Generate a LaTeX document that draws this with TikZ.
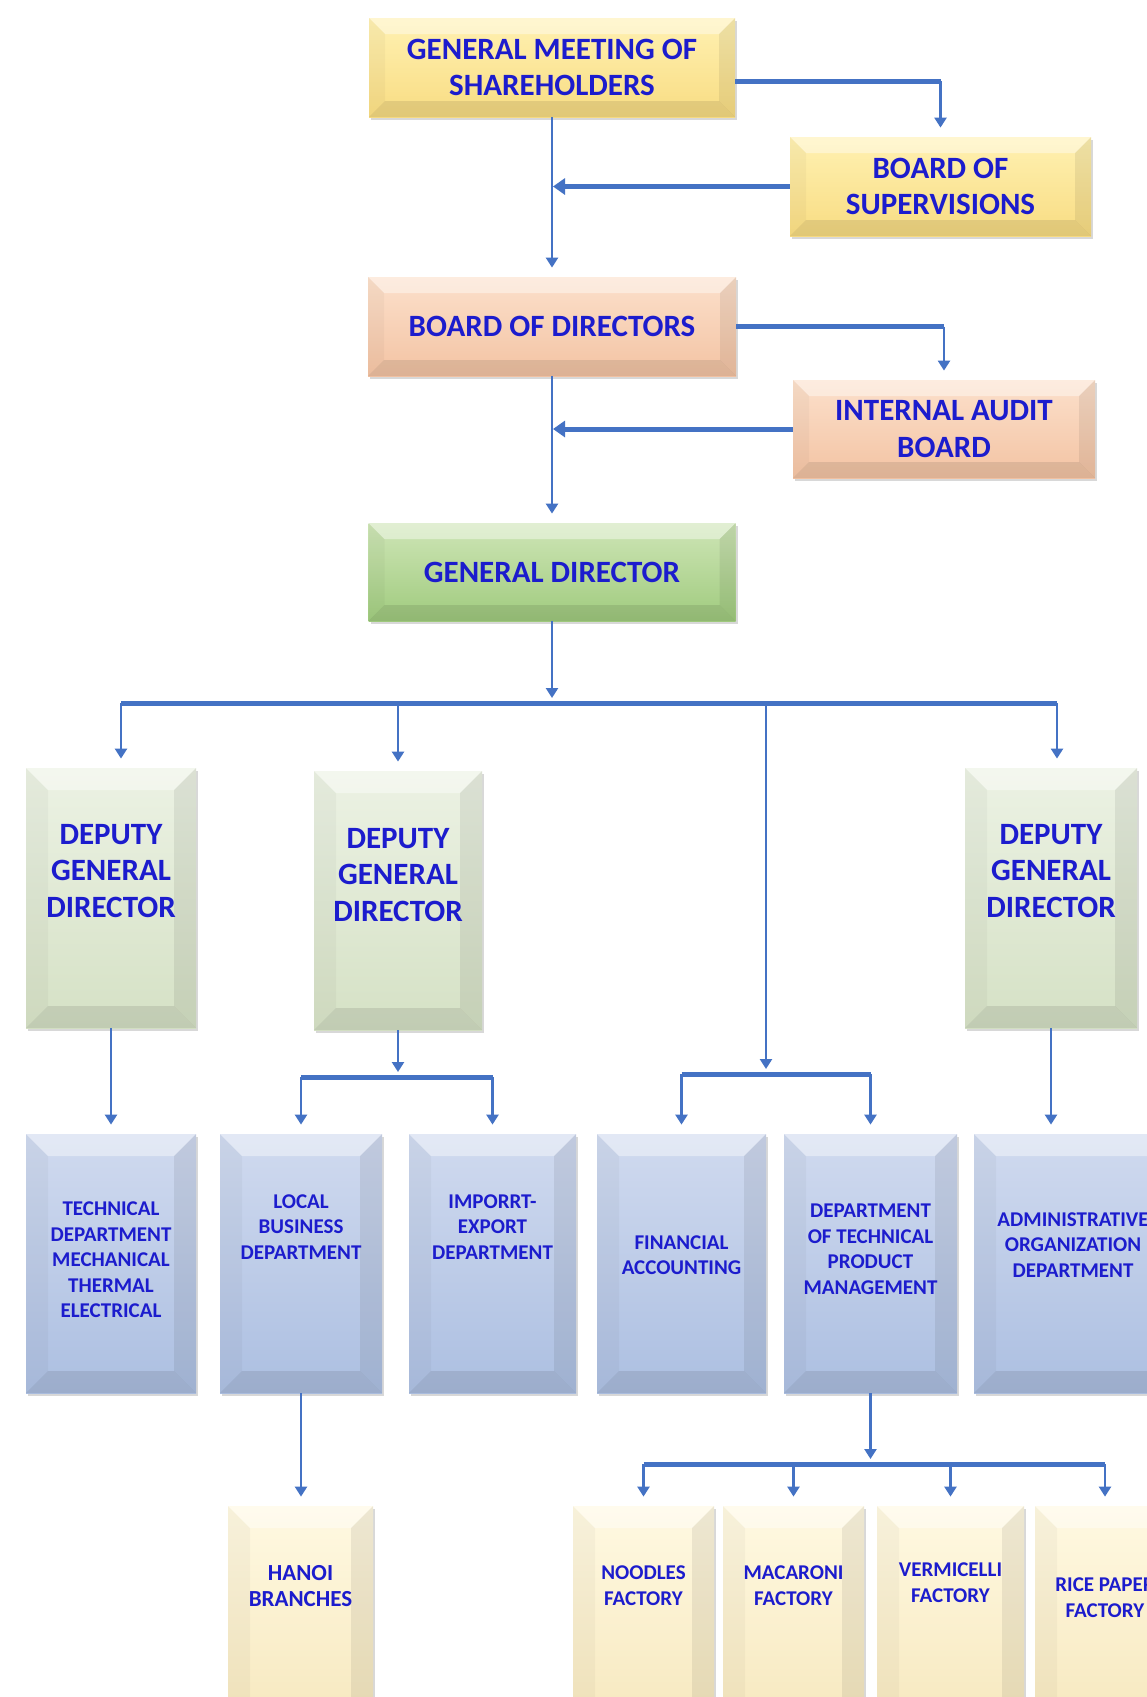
\documentclass[tikz,border=0pt]{standalone}
\usepackage{fontspec}
\setmainfont{Carlito}
\usetikzlibrary{arrows.meta, shadows, calc}

\definecolor{txtblue}{RGB}{28,28,205}
\definecolor{linkblue}{RGB}{68,114,196}
\definecolor{yelTop}{RGB}{255,241,178}
\definecolor{yelBot}{RGB}{248,220,130}
\definecolor{salTop}{RGB}{252,224,203}
\definecolor{salBot}{RGB}{243,195,163}
\definecolor{grnTop}{RGB}{206,229,182}
\definecolor{grnBot}{RGB}{160,203,126}
\definecolor{pgrTop}{RGB}{236,242,228}
\definecolor{pgrBot}{RGB}{213,225,197}
\definecolor{bluTop}{RGB}{208,218,239}
\definecolor{bluBot}{RGB}{172,191,225}
\definecolor{crmTop}{RGB}{255,249,226}
\definecolor{crmBot}{RGB}{246,231,188}

\tikzset{
  box/.style={rectangle, inner sep=0pt, align=center, text=txtblue,
    drop shadow={shadow xshift=1.2pt, shadow yshift=-1.5pt, opacity=0.3}},
  bevel/.style={path picture={
    \coordinate (bNW) at (path picture bounding box.north west);
    \coordinate (bSE) at (path picture bounding box.south east);
    \coordinate (bNE) at (bNW -| bSE);
    \coordinate (bSW) at (bNW |- bSE);
    \fill[white, opacity=.4] (bNW) -- (bNE) -- ([shift={(-#1,-#1)}]bNE) -- ([shift={(#1,-#1)}]bNW) -- cycle;
    \fill[black, opacity=.03] (bNW) -- ([shift={(#1,-#1)}]bNW) -- ([shift={(#1,#1)}]bSW) -- (bSW) -- cycle;
    \fill[black, opacity=.07] (bNE) -- ([shift={(-#1,-#1)}]bNE) -- ([shift={(-#1,#1)}]bSE) -- (bSE) -- cycle;
    \fill[black, opacity=.09] (bSW) -- ([shift={(#1,#1)}]bSW) -- ([shift={(-#1,#1)}]bSE) -- (bSE) -- cycle;
  }},
  topbox/.style={box, bevel=8pt, font=\bfseries\fontsize{15.5}{18.4}\selectfont},
  tallbox/.style={box, bevel=11pt},
  yelfill/.style={top color=yelTop, bottom color=yelBot},
  salfill/.style={top color=salTop, bottom color=salBot},
  grnfill/.style={top color=grnTop, bottom color=grnBot},
  pgrfill/.style={top color=pgrTop, bottom color=pgrBot},
  blufill/.style={top color=bluTop, bottom color=bluBot},
  crmfill/.style={top color=crmTop, bottom color=crmBot},
  bigtxt/.style={inner sep=0pt, align=center, text=txtblue, font=\bfseries\fontsize{15.5}{18.4}\selectfont},
  smalltxt/.style={inner sep=0pt, align=center, text=txtblue, font=\bfseries\fontsize{10.5}{12.75}\selectfont},
  factxt/.style={inner sep=0pt, align=center, text=txtblue, font=\bfseries\fontsize{10.5}{13}\selectfont},
  bus/.style={draw=linkblue, line width=2.5pt},
  busarrow/.style={bus, -{Triangle[width=8pt,length=6pt]}, shorten >=0.5pt},
  link/.style={draw=linkblue, line width=1.2pt, -{Triangle[width=6pt,length=5pt]}, shorten >=4.5pt},
}

\begin{document}
\begin{tikzpicture}[x=0.5pt, y=-0.5pt]
  \fill[white] (0,0) rectangle (1146,1697);
  \useasboundingbox (0,0) rectangle (1146,1697);

  % meeting, boards, general director
  \node[topbox, yelfill, minimum width=183pt, minimum height=49.5pt] (gms) at (552,67.5) {GENERAL MEETING OF\\SHAREHOLDERS};
  \node[topbox, yelfill, minimum width=150.5pt, minimum height=49.5pt] (bos) at (940.5,186.5) {BOARD OF\\SUPERVISIONS};
  \node[topbox, salfill, minimum width=184pt, minimum height=49.5pt] (bod) at (552,326.5) {BOARD OF DIRECTORS};
  \node[topbox, salfill, minimum width=151pt, minimum height=49pt] (iab) at (944,429) {INTERNAL AUDIT\\BOARD};
  \node[topbox, grnfill, minimum width=183.5pt, minimum height=49pt] (gd) at (552,572) {GENERAL DIRECTOR};

  % deputies
  \node[tallbox, pgrfill, minimum width=85pt, minimum height=130pt] (dgdA) at (111,898) {};
  \node[tallbox, pgrfill, minimum width=84pt, minimum height=129.5pt] (dgdB) at (398,900.5) {};
  \node[tallbox, pgrfill, minimum width=86pt, minimum height=130pt] (dgdC) at (1051,898) {};
  \node[bigtxt] (dgdAtxt) at (111,871) {DEPUTY\\GENERAL\\DIRECTOR};
  \node[bigtxt] (dgdBtxt) at (398,875) {DEPUTY\\GENERAL\\DIRECTOR};
  \node[bigtxt] (dgdCtxt) at (1051,871) {DEPUTY\\GENERAL\\DIRECTOR};

  % departments
  \node[tallbox, blufill, minimum width=85pt, minimum height=129.5pt] (tech) at (111,1263.5) {};
  \node[tallbox, blufill, minimum width=81pt, minimum height=129.5pt] (local) at (301,1263.5) {};
  \node[tallbox, blufill, minimum width=83.5pt, minimum height=129.5pt] (import) at (492.5,1263.5) {};
  \node[tallbox, blufill, minimum width=84.5pt, minimum height=129.5pt] (fin) at (681.5,1263.5) {};
  \node[tallbox, blufill, minimum width=86.5pt, minimum height=129.5pt] (dept) at (870.5,1263.5) {};
  \node[tallbox, blufill, minimum width=99pt, minimum height=129.5pt] (admin) at (1073,1263.5) {};
  \node[smalltxt] (techtxt) at (111,1260) {TECHNICAL\\DEPARTMENT\\MECHANICAL\\THERMAL\\ELECTRICAL};
  \node[smalltxt] (localtxt) at (301,1227) {LOCAL\\BUSINESS\\DEPARTMENT};
  \node[smalltxt] (importtxt) at (492.5,1227) {IMPORRT-\\EXPORT\\DEPARTMENT};
  \node[smalltxt] (fintxt) at (681.5,1255) {FINANCIAL\\ACCOUNTING};
  \node[smalltxt] (depttxt) at (870.5,1249) {DEPARTMENT\\OF TECHNICAL\\PRODUCT\\MANAGEMENT};
  \node[smalltxt] (admintxt) at (1073,1245) {ADMINISTRATIVE\\ORGANIZATION\\DEPARTMENT};

  % branches and factories
  \node[tallbox, crmfill, minimum width=72.5pt, minimum height=117pt] (hanoi) at (300.5,1623) {};
  \node[tallbox, crmfill, minimum width=70.5pt, minimum height=117pt] (noodles) at (643.5,1623) {};
  \node[tallbox, crmfill, minimum width=70.5pt, minimum height=117pt] (macaroni) at (793.5,1623) {};
  \node[tallbox, crmfill, minimum width=73.5pt, minimum height=117pt] (vermicelli) at (950.5,1623) {};
  \node[tallbox, crmfill, minimum width=70pt, minimum height=117pt] (rice) at (1105,1623) {};
  \node[factxt, font=\bfseries\fontsize{11.5}{13}\selectfont] (hanoitxt) at (300.5,1586) {HANOI\\BRANCHES};
  \node[factxt] (noodlestxt) at (643.5,1586) {NOODLES\\FACTORY};
  \node[factxt] (macaronitxt) at (793.5,1586) {MACARONI\\FACTORY};
  \node[factxt] (vermicellitxt) at (950.5,1583) {VERMICELLI\\FACTORY};
  \node[factxt] (ricetxt) at (1105,1598) {RICE PAPER\\FACTORY};

  % connectors, top part
  \coordinate (gmsR) at ([yshift=-6.75pt]gms.east);
  \coordinate (gmsTurn) at (gmsR -| bos.north);
  \draw[bus] (gmsR) -- (gmsTurn);
  \draw[link] (gmsTurn) -- (bos.north);
  \draw[busarrow] (bos.west) -- (bos.west -| gms.south);
  \draw[link] (gms.south) -- (bod.north);
  \coordinate (bodTurn) at (bod.east -| iab.north);
  \draw[bus] (bod.east) -- (bodTurn);
  \draw[link] (bodTurn) -- (iab.north);
  \draw[busarrow] (iab.west) -- (iab.west -| bod.south);
  \draw[link] (bod.south) -- (gd.north);

  % main bus
  \coordinate (busL) at (121,703);
  \coordinate (busR) at (1057,703);
  \coordinate (busM) at (766,703);
  \draw[link, shorten >=2.5pt] (gd.south) -- (gd.south |- busL);
  \draw[bus] (busL) -- (busR);
  \draw[link] (busL) -- (busL |- dgdA.north);
  \draw[link] (dgdB.north |- busL) -- (dgdB.north);
  \draw[link] (busR) -- (busR |- dgdC.north);

  % deputies to departments
  \draw[link] (dgdA.south) -- (tech.north);
  \coordinate (locBus) at (398,1077);
  \draw[link, shorten >=2.5pt] (dgdB.south) -- (locBus);
  \draw[bus] (local.north |- locBus) -- (import.north |- locBus);
  \draw[link] (local.north |- locBus) -- (local.north);
  \draw[link] (import.north |- locBus) -- (import.north);
  \coordinate (finBus) at (766,1074);
  \draw[link, shorten >=2.5pt] (busM) -- (finBus);
  \draw[bus] (fin.north |- finBus) -- (dept.north |- finBus);
  \draw[link] (fin.north |- finBus) -- (fin.north);
  \draw[link] (dept.north |- finBus) -- (dept.north);
  \draw[link] (dgdC.south) -- (dgdC.south |- admin.north);

  % lowest level
  \draw[link] (local.south) -- (local.south |- hanoi.north);
  \coordinate (facBus) at (870.5,1464);
  \draw[link, shorten >=2.5pt] (dept.south) -- (facBus);
  \draw[bus] (noodles.north |- facBus) -- (rice.north |- facBus);
  \foreach \f in {noodles, macaroni, vermicelli, rice}
    \draw[link] (\f.north |- facBus) -- (\f.north);
\end{tikzpicture}
\end{document}
